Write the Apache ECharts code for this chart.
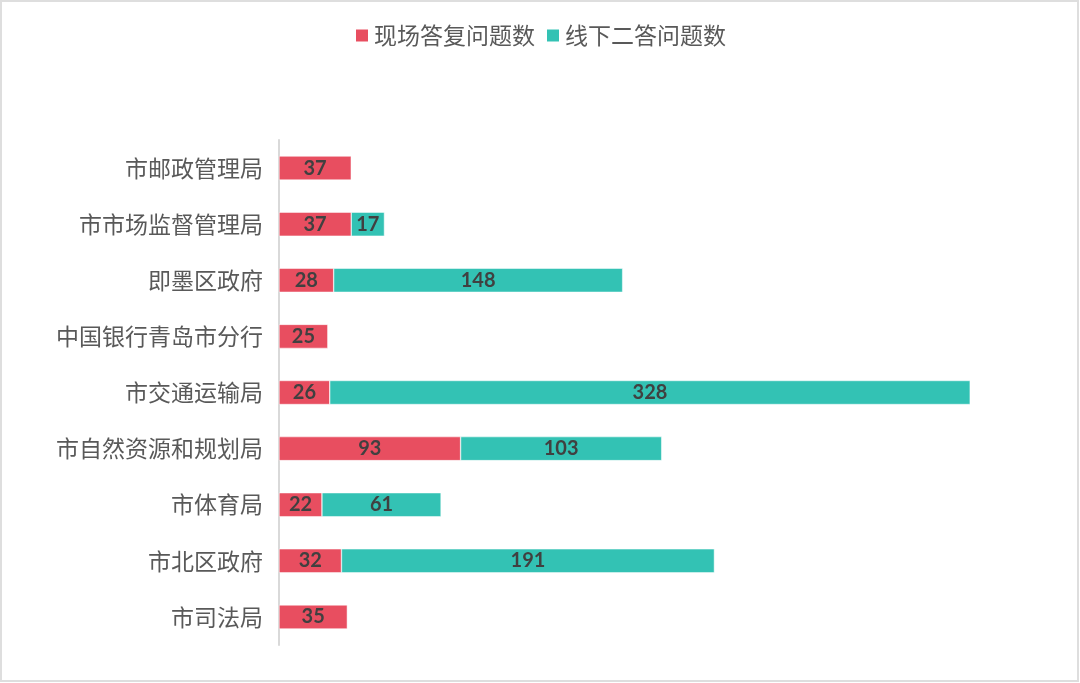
<!DOCTYPE html>
<html><head><meta charset="utf-8">
<script src="https://cdn.jsdelivr.net/npm/echarts@6/dist/echarts.min.js"></script>
<style>html,body{margin:0;padding:0;background:#fff}#c{width:1080px;height:683px}</style>
</head><body><div id="c"></div>
<script>
const categories = ['市邮政管理局','市市场监督管理局','即墨区政府','中国银行青岛市分行','市交通运输局','市自然资源和规划局','市体育局','市北区政府','市司法局'];
const onSite = [37,37,28,25,26,93,22,32,35];
const offline = [null,17,148,null,328,103,61,191,null];
const seriesNames = ['现场答复问题数','线下二答问题数'];

const chart = echarts.init(document.getElementById('c'));
const lbl = {show:true, position:'inside', color:'#404040', fontSize:20, fontWeight:'bold', fontFamily:'Lato, "Open Sans", sans-serif'};
chart.setOption({
  backgroundColor:'#fff',
  animation:false,
  graphic:[{type:'rect', shape:{x:1,y:1,width:1077,height:680}, style:{fill:'none', stroke:'#dedede', lineWidth:2}, silent:true}],
  legend:{
    top:19, left:'center', itemWidth:14, itemHeight:14, itemGap:10,
    icon:'rect',
    textStyle:{fontSize:23, color:'#595959', fontFamily:'"Noto Sans CJK SC", sans-serif'},
    data:seriesNames
  },
  grid:{left:279, right:20, top:140, bottom:38, containLabel:false},
  xAxis:{type:'value', min:0, max:400, show:false},
  yAxis:{
    type:'category', data:categories, inverse:true,
    axisLine:{show:true, lineStyle:{color:'#d9d9d9', width:2}},
    axisTick:{show:false},
    axisLabel:{fontSize:23, color:'#595959', margin:16, fontFamily:'"Noto Sans CJK SC", sans-serif'}
  },
  series:[
    {name:seriesNames[0], type:'bar', stack:'a', data:onSite, barWidth:24,
     itemStyle:{color:'#E84E60', borderColor:'#fff', borderWidth:0.5}, label:lbl},
    {name:seriesNames[1], type:'bar', stack:'a', data:offline, barWidth:24,
     itemStyle:{color:'#33C2B4', borderColor:'#fff', borderWidth:0.5}, label:lbl}
  ]
});
</script></body></html>
